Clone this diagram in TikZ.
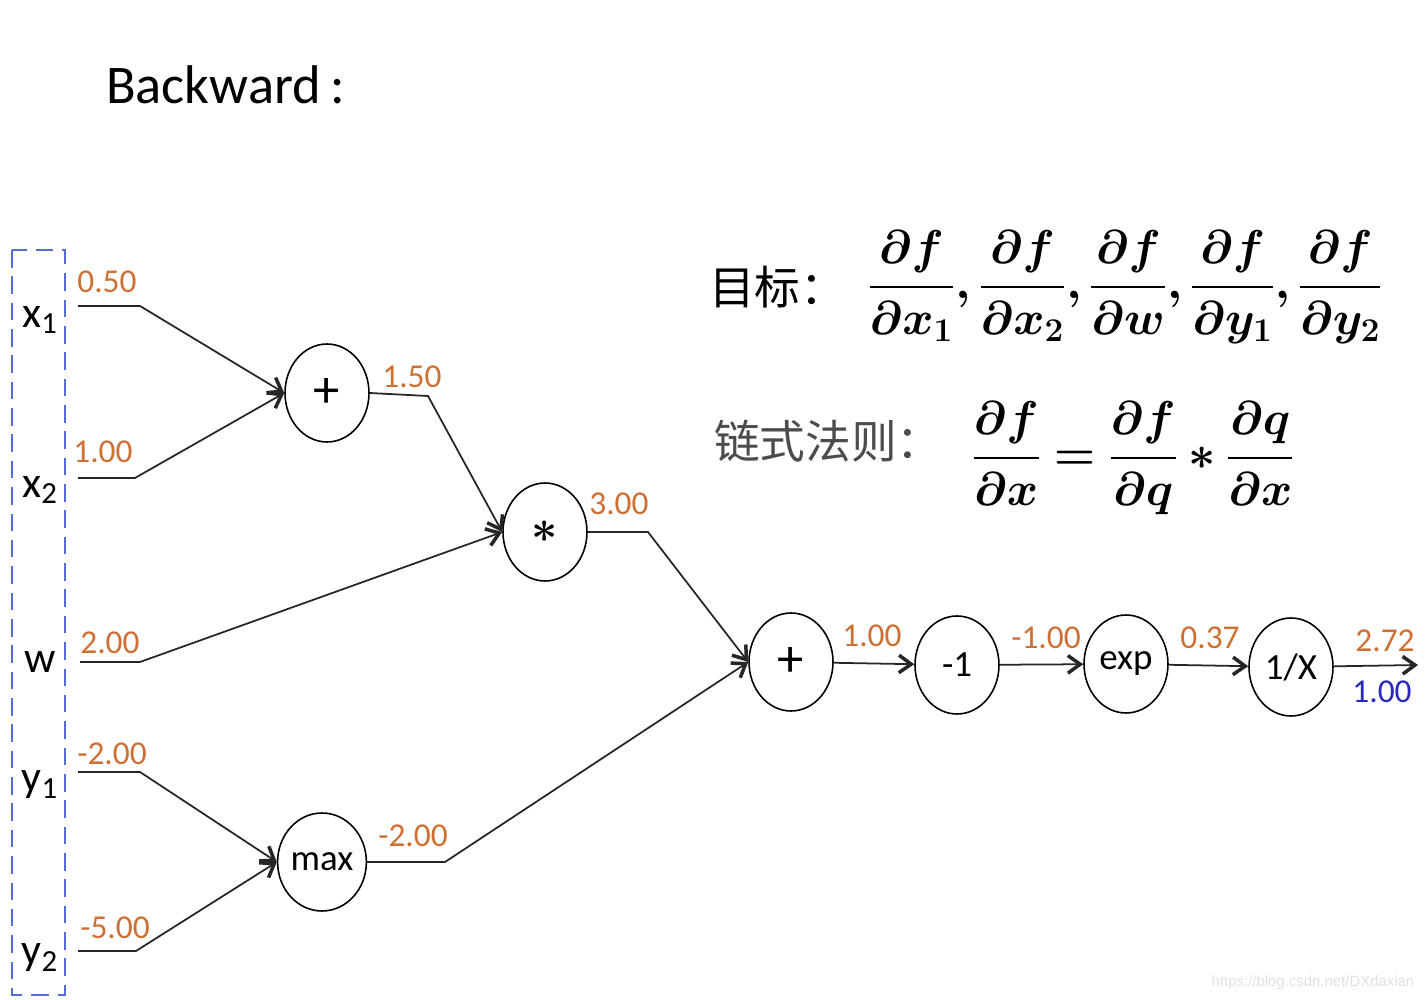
\RequirePackage{fix-cm}
\documentclass[tikz,border=0pt]{standalone}
\usepackage{amsmath}
\usepackage{bm}
\usepackage{fontspec}
\setmainfont{Carlito}
\newfontfamily\cjk{Noto Sans CJK SC}
\newfontfamily\wmfont{Liberation Sans}
\usetikzlibrary{arrows.meta,shapes.geometric}
\definecolor{valorange}{RGB}{206,112,52}
\definecolor{gradblue}{RGB}{40,40,190}
\definecolor{boxblue}{RGB}{85,110,215}

\begin{document}
\begin{tikzpicture}[x=0.02cm,y=-0.02cm,>={Straight Barb[length=7pt,width=10pt,line width=2pt]},
  op/.style={draw,ellipse,line width=0.9pt,minimum width=1.68cm,minimum height=1.96cm,inner sep=0pt,font=\fontsize{21}{24}\selectfont},
  val/.style={text=valorange,font=\fontsize{19}{22}\selectfont,inner sep=0pt},
  inp/.style={font=\fontsize{25}{28}\selectfont,inner sep=0pt},
  wire/.style={line width=1pt,black!85}]
  \useasboundingbox (0,0) rectangle (1428,1000);

  \node[anchor=west,font=\fontsize{31}{38}\selectfont] (title) at (100,85) {Backward\,:};

  % inputs
  \draw[boxblue,line width=1.3pt,dash pattern=on 10pt off 5pt] (12,250) rectangle (65,995);
  \node[inp] (x1) at (40,320) {x\textsubscript{1}};
  \node[inp] (x2) at (40,490) {x\textsubscript{2}};
  \node[inp] (w)  at (40,662) {w};
  \node[inp] (y1) at (40,785) {y\textsubscript{1}};
  \node[inp] (y2) at (40,958) {y\textsubscript{2}};

  % gates
  \node[op] (add1) at (327,393) {\fontsize{30}{30}\selectfont +};
  \node[op] (mul)  at (545,532) {\fontsize{26}{26}\selectfont$\bm{\ast}$};
  \node[op] (max)  at (322,862) {max};
  \node[op] (add2) at (791,662) {\fontsize{30}{30}\selectfont +};
  \node[op] (neg)  at (957,665) {-1};
  \node[op] (expn) at (1126,664) {exp};
  \node[op] (inv)  at (1291,667) {1/X};

  \coordinate (x1s) at (78,306);  \coordinate (x1k) at (140,306);
  \coordinate (x2s) at (78,478);  \coordinate (x2k) at (135,478);
  \coordinate (ws)  at (80,662);  \coordinate (wk)  at (140,662);
  \coordinate (y1s) at (78,772);  \coordinate (y1k) at (140,772);
  \coordinate (y2s) at (78,951);  \coordinate (y2k) at (136,951);
  \coordinate (a1k) at (428,396);
  \coordinate (mk)  at (648,532);
  \coordinate (mxk) at (445,862);
  \coordinate (out) at (1418,665);

  \draw[wire,->] (x1s) -- (x1k) -- (add1.west);
  \draw[wire,->] (x2s) -- (x2k) -- (add1.west);
  \draw[wire,->] (add1.east) -- (a1k) -- (mul.west);
  \draw[wire,->] (ws) -- (wk) -- (mul.west);
  \draw[wire,->] (y1s) -- (y1k) -- (max.west);
  \draw[wire,->] (y2s) -- (y2k) -- (max.west);
  \draw[wire,->] (mul.east) -- (mk) -- (add2.west);
  \draw[wire,->] (max.east) -- (mxk) -- (add2.west);
  \draw[wire,->] (add2) -- (neg);
  \draw[wire,->] (neg) -- (expn);
  \draw[wire,->] (expn) -- (inv);
  \draw[wire,->] (inv) -- (out);

  % forward values
  \node[val] (vx1) at (107,282) {0.50};
  \node[val] (vx2) at (103,452) {1.00};
  \node[val] (va1) at (412,377) {1.50};
  \node[val] (vm)  at (619,504) {3.00};
  \node[val] (vw)  at (110,643) {2.00};
  \node[val] (vy1) at (112,754) {-2.00};
  \node[val] (vy2) at (115,928) {-5.00};
  \node[val] (vmx) at (413,836) {-2.00};
  \node[val] (va2) at (872,636) {1.00};
  \node[val] (vng) at (1046,638) {-1.00};
  \node[val] (vex) at (1210,638) {0.37};
  \node[val] (vin) at (1385,641) {2.72};
  \node[val,text=gradblue] (gout) at (1382,692) {1.00};

  % goal and chain rule
  \node[anchor=west,font=\cjk\fontsize{26}{30}\selectfont] (goal) at (703,287) {目标：};
  \node[font=\fontsize{27}{32}\selectfont] (goalf) at (1125,287)
    {$\bm{\dfrac{\partial f}{\partial x_1},\dfrac{\partial f}{\partial x_2},\dfrac{\partial f}{\partial w},\dfrac{\partial f}{\partial y_1},\dfrac{\partial f}{\partial y_2}}$};
  \node[anchor=west,font=\cjk\fontsize{26}{30}\selectfont,text=black!70] (chain) at (708,441) {链式法则：};
  \node[font=\fontsize{27}{32}\selectfont] (chainf) at (1133,458)
    {$\bm{\dfrac{\partial f}{\partial x}=\dfrac{\partial f}{\partial q}*\dfrac{\partial q}{\partial x}}$};

  \node[text=black!12,font=\wmfont\fontsize{8.5}{10}\selectfont] (mark) at (1313,983) {https://blog.csdn.net/DXdaxian};
\end{tikzpicture}
\end{document}
